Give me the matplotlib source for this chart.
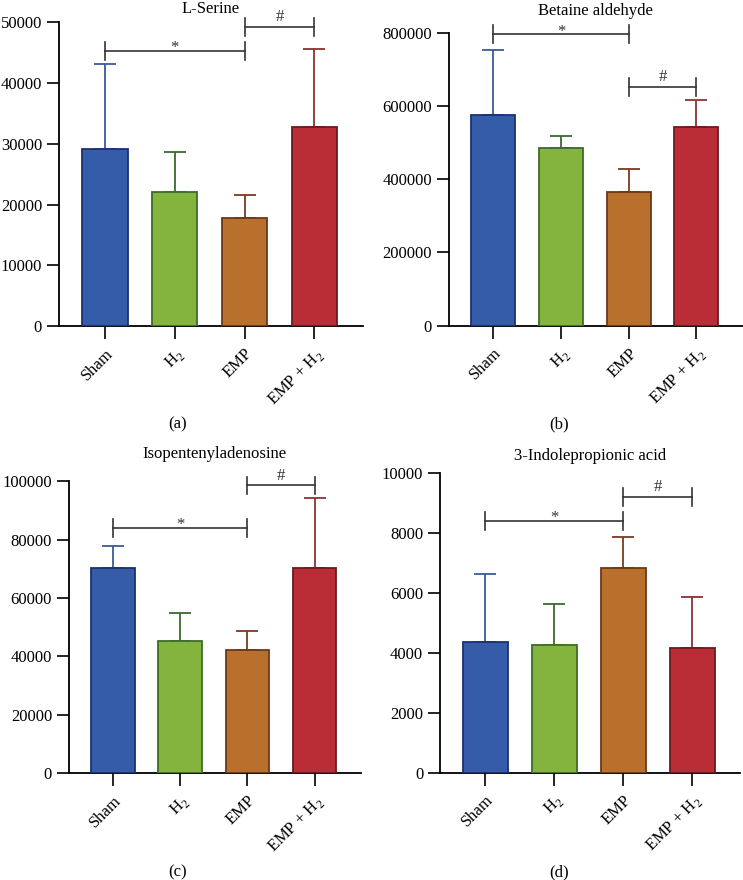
import numpy as np
import matplotlib
matplotlib.use("Agg")
import matplotlib.pyplot as plt

plt.rcParams["font.family"] = ["Liberation Serif", "DejaVu Serif"]
plt.rcParams["mathtext.fontset"] = "custom"
plt.rcParams["mathtext.rm"] = "Liberation Serif"

# Groups and styling
groups = ["Sham", r"H$_\mathregular{2}$", "EMP", r"EMP + H$_\mathregular{2}$"]
face_colors = ["#355ca8", "#84b43e", "#b8702c", "#ba2d36"]
edge_colors = ["#1d306e", "#3d6c2a", "#6a381c", "#6c1a20"]
err_colors = ["#3c5a96", "#3b6a2b", "#7a3b22", "#8a3434"]

# Panel data: means and upper error-bar tops
titles = ["L-Serine", "Betaine aldehyde", "Isopentenyladenosine", "3-Indolepropionic acid"]
panel_labels = ["(a)", "(b)", "(c)", "(d)"]
y_max = [50000, 800000, 100000, 10000]
y_step = [10000, 200000, 20000, 2000]

means_a = [29200, 22100, 17800, 32800]
tops_a = [43200, 28700, 21600, 45700]
means_b = [575000, 485000, 365000, 543000]
tops_b = [753000, 517000, 428000, 616000]
means_c = [70300, 45400, 42300, 70300]
tops_c = [77900, 54900, 48800, 94400]
means_d = [4370, 4270, 6830, 4160]
tops_d = [6620, 5620, 7850, 5850]

means = [means_a, means_b, means_c, means_d]
tops = [tops_a, tops_b, tops_c, tops_d]

# Significance brackets: (start group, end group, height, symbol)
brackets = [
    [(0, 2, 45300, "*"), (2, 3, 49300, "#")],
    [(0, 2, 796000, "*"), (2, 3, 652000, "#")],
    [(0, 2, 84000, "*"), (2, 3, 98600, "#")],
    [(0, 2, 8400, "*"), (2, 3, 9200, "#")],
]
sym_offset = {"*": -1.0, "#": 4.0}  # baseline offset in points

# Axes placement (figure fractions) to follow the original layout
positions = [
    [0.079, 0.6295, 0.409, 0.345],
    [0.604, 0.6299, 0.396, 0.333],
    [0.0925, 0.1212, 0.3934, 0.332],
    [0.592, 0.122, 0.404, 0.341],
]
title_pads = [7, 13, 17, 9]
label_xy = [(178 / 743, 1 - 424 / 880), (559 / 743, 1 - 424 / 880),
            (178 / 743, 1 - 872 / 880), (559 / 743, 1 - 872 / 880)]

FS = 12
fig = plt.figure(figsize=(7.43, 8.80), dpi=100)
x = np.arange(len(groups))

for k in range(4):
    ax = fig.add_axes(positions[k])
    m = np.array(means[k])
    t = np.array(tops[k])
    ax.bar(x, m, width=0.65, color=face_colors, edgecolor=edge_colors,
           linewidth=1.3, zorder=3)
    for i in range(4):
        ax.errorbar(x[i], m[i], yerr=[[0], [t[i] - m[i]]], fmt="none",
                    ecolor=err_colors[i], elinewidth=1.3, capsize=8,
                    capthick=1.3, zorder=2)

    ax.set_xlim(-0.66, 3.69)
    ax.set_ylim(0, y_max[k])
    ax.set_yticks(np.arange(0, y_max[k] + 1, y_step[k]))
    ax.set_xticks(x)
    ax.set_xticklabels(groups, rotation=45, ha="right", rotation_mode="anchor",
                       fontsize=FS)
    ax.tick_params(axis="y", labelsize=FS, length=9, width=1.2, pad=3)
    ax.tick_params(axis="x", length=9, width=1.2, pad=5)
    for s in ["top", "right"]:
        ax.spines[s].set_visible(False)
    for s in ["left", "bottom"]:
        ax.spines[s].set_linewidth(1.3)

    # significance brackets
    half = 0.03 * y_max[k]
    for (i0, i1, h, sym) in brackets[k]:
        ax.plot([x[i0], x[i1]], [h, h], color="#333333", lw=1.2, clip_on=False, zorder=4)
        for xi in (x[i0], x[i1]):
            ax.plot([xi, xi], [h - half, h + half], color="#333333", lw=1.2,
                    clip_on=False, zorder=4)
        ax.annotate(sym, xy=((x[i0] + x[i1]) / 2, h), xytext=(0, sym_offset[sym]),
                    textcoords="offset points", ha="center", va="baseline",
                    fontsize=FS, color="#333333", annotation_clip=False)

    ax.set_title(titles[k], fontsize=FS, pad=title_pads[k])
    fig.text(label_xy[k][0], label_xy[k][1], panel_labels[k], ha="center",
             va="center", fontsize=FS)

fig.savefig("out.png", dpi=100)
